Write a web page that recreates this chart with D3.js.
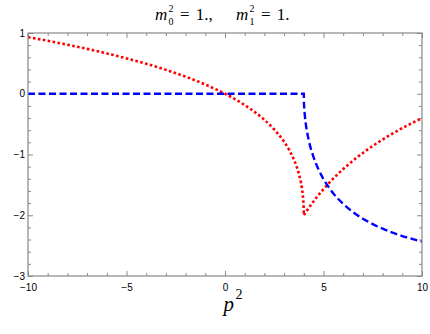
<!DOCTYPE html>
<html>
<head>
<meta charset="utf-8">
<script src="https://cdn.jsdelivr.net/npm/d3@7"></script>
<style>
  body { margin: 0; background: #fff; }
  .tick text { font-family: "Liberation Sans", Arial, sans-serif; font-size: 10px; fill: #000; }
</style>
</head>
<body>
<div id="chart"></div>
<script>
// p^2 sample points
let pRe = [-10, -9, -8, -7, -6, -5, -4, -3, -2, -1, -0.5, 0, 0.5, 1, 1.5, 2, 2.5, 3, 3.25, 3.5, 3.75, 3.9, 3.97, 3.99, 4,
	4.01, 4.05, 4.1, 4.25, 4.5, 4.75, 5, 5.5, 6, 6.5, 7, 7.5, 8, 8.5, 9, 9.5, 10];
// red dotted curve
let reVals = [0.932, 0.872, 0.808, 0.739, 0.664, 0.582, 0.493, 0.393, 0.281, 0.152, 0.079, 0, -0.088, -0.186, -0.298, -0.429, -0.588, -0.791, -0.921, -1.086, -1.319, -1.548, -1.742, -1.848, -2,
	-1.995, -1.975, -1.951, -1.880, -1.769, -1.666, -1.570, -1.395, -1.240, -1.100, -0.974, -0.859, -0.754, -0.656, -0.565, -0.481, -0.402];

// blue dashed curve
let pIm = [-10, 4, 4, 4.01, 4.05, 4.1, 4.25, 4.5, 4.75, 5, 5.5, 6, 6.5, 7, 7.5, 8, 8.5, 9, 9.5, 10];
let imVals = [0, 0, 0, -0.157, -0.349, -0.491, -0.762, -1.047, -1.248, -1.405, -1.641, -1.814, -1.948, -2.057, -2.146, -2.221, -2.286, -2.342, -2.390, -2.434];

let xMajor = [-10, -5, 0, 5, 10];
let yMajor = [-3, -2, -1, 0, 1];

let W = 430, H = 334;
let margin = { top: 33, right: 8, bottom: 58, left: 28 },
	w = W - margin.left - margin.right,
	h = H - margin.top - margin.bottom;

let svg = d3.select("#chart")
	.append("svg")
	.attr("width", W)
	.attr("height", H);

let g = svg.append("g")
	.attr("transform", "translate(" + margin.left + "," + margin.top + ")");

let x = d3.scaleLinear().domain([-10, 10]).range([0, w]);
let y = d3.scaleLinear().domain([-3, 1]).range([h, 0]);

let xMinor = d3.range(-10, 10.01, 1).filter(function (v) { return xMajor.indexOf(v) < 0; });
let yMinor = d3.range(-3, 1.001, 0.2).map(function (v) { return Math.round(v * 10) / 10; })
	.filter(function (v) { return yMajor.indexOf(v) < 0; });

let axisColor = "#888";

function styleAxis(sel) {
	sel.select(".domain").remove();
	sel.selectAll(".tick line").attr("stroke", axisColor).attr("stroke-width", 1);
}

let fmt = function (d) { return d < 0 ? "\u2212" + Math.abs(d) : d; };

// bottom
g.append("g").attr("transform", "translate(0," + h + ")")
	.call(d3.axisBottom(x).tickValues(xMajor).tickSize(-5).tickPadding(8).tickFormat(fmt))
	.call(styleAxis);
g.append("g").attr("transform", "translate(0," + h + ")")
	.call(d3.axisBottom(x).tickValues(xMinor).tickSize(-3).tickFormat(""))
	.call(styleAxis);
// top
g.append("g")
	.call(d3.axisTop(x).tickValues(xMajor).tickSize(-5).tickFormat(""))
	.call(styleAxis);
g.append("g")
	.call(d3.axisTop(x).tickValues(xMinor).tickSize(-3).tickFormat(""))
	.call(styleAxis);
// left
g.append("g")
	.call(d3.axisLeft(y).tickValues(yMajor).tickSize(-5).tickPadding(3).tickFormat(fmt))
	.call(styleAxis);
g.append("g")
	.call(d3.axisLeft(y).tickValues(yMinor).tickSize(-3).tickFormat(""))
	.call(styleAxis);
// right
g.append("g").attr("transform", "translate(" + w + ",0)")
	.call(d3.axisRight(y).tickValues(yMajor).tickSize(-5).tickFormat(""))
	.call(styleAxis);
g.append("g").attr("transform", "translate(" + w + ",0)")
	.call(d3.axisRight(y).tickValues(yMinor).tickSize(-3).tickFormat(""))
	.call(styleAxis);

// clip
g.append("clipPath").attr("id", "clip")
	.append("rect").attr("width", w).attr("height", h);

let reData = pRe.map(function (p, i) { return [p, reVals[i]]; });
let imData = pIm.map(function (p, i) { return [p, imVals[i]]; });

let line = d3.line()
	.x(function (d) { return x(d[0]); })
	.y(function (d) { return y(d[1]); })
	.curve(d3.curveMonotoneX);

let lineLin = d3.line()
	.x(function (d) { return x(d[0]); })
	.y(function (d) { return y(d[1]); });

g.append("path")
	.datum(reData)
	.attr("clip-path", "url(#clip)")
	.attr("fill", "none")
	.attr("stroke", "#ff0000")
	.attr("stroke-width", 2.6)
	.attr("stroke-dasharray", "2.6,2.4")
	.attr("d", line);

// blue: flat part then the branch after threshold
g.append("path")
	.datum(imData)
	.attr("clip-path", "url(#clip)")
	.attr("fill", "none")
	.attr("stroke", "#0000ff")
	.attr("stroke-width", 2.4)
	.attr("stroke-dasharray", "7,3.5")
	.attr("d", function (d) {
		return lineLin(d.slice(0, 3)) + line(d.slice(2)).replace(/^M/, "L");
	});

// frame
g.append("rect")
	.attr("width", w).attr("height", h)
	.attr("fill", "none")
	.attr("stroke", axisColor)
	.attr("stroke-width", 1.2);

// title: m_0^2 = 1.,   m_1^2 = 1.
let serif = "'Liberation Serif', 'Times New Roman', serif";
function massTerm(x0, sub, rest) {
	svg.append("text").attr("x", x0).attr("y", 20)
		.style("font-family", serif).style("font-size", "17px").style("font-style", "italic")
		.text("m");
	svg.append("text").attr("x", x0 + 13.5).attr("y", 12)
		.style("font-family", serif).style("font-size", "10px").text("2");
	svg.append("text").attr("x", x0 + 13.5).attr("y", 25)
		.style("font-family", serif).style("font-size", "10px").text(sub);
	svg.append("text").attr("x", x0 + 25).attr("y", 20)
		.style("font-family", serif).style("font-size", "17px")
		.style("word-spacing", "2px").text(rest);
}
massTerm(155, "0", "= 1.,");
massTerm(236, "1", "= 1.");

// x label
svg.append("text")
	.attr("x", margin.left + x(0) + 9).attr("y", 311)
	.attr("text-anchor", "end")
	.style("font-family", serif).style("font-size", "21px").style("font-style", "italic")
	.text("p");
svg.append("text")
	.attr("x", margin.left + x(0) + 10.5).attr("y", 299)
	.style("font-family", serif).style("font-size", "14px")
	.text("2");
</script>
</body>
</html>
